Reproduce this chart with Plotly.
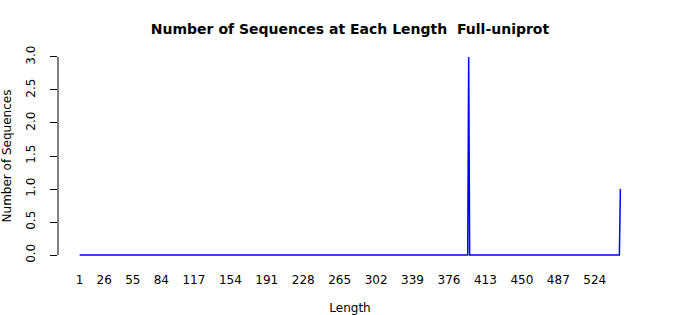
import plotly.graph_objects as go

# Sequence length vs count (line changes only; all other lengths have count 0)
lengths = [1, 395, 396, 397, 549, 550]
counts = [0, 0, 3, 0, 0, 1]

x_tick_vals = [1, 26, 55, 84, 117, 154, 191, 228, 265, 302, 339, 376, 413, 450, 487, 524]
x_tick_text = [str(v) for v in x_tick_vals]
y_tick_vals = [0, 0.5, 1, 1.5, 2, 2.5, 3]
y_tick_text = ["0.0", "0.5", "1.0", "1.5", "2.0", "2.5", "3.0"]

font_family = "DejaVu Sans"

fig = go.Figure()
fig.add_trace(go.Scatter(
    x=lengths, y=counts, mode="lines",
    line=dict(color="#0000FF", width=1.5),
    hoverinfo="x+y", showlegend=False,
))

xmin, xmax = min(lengths), max(lengths)
xpad = (xmax - xmin) * 0.04
ymin, ymax = 0, 3
ypad = (ymax - ymin) * 0.04

fig.update_layout(
    width=700, height=315,
    margin=dict(l=58, r=58, t=49, b=52, autoexpand=False),
    paper_bgcolor="white", plot_bgcolor="white",
    font=dict(family=font_family, size=12, color="black"),
    title=dict(
        text="<b>Number of Sequences at Each Length  Full-uniprot</b>",
        x=0.5, xanchor="center", y=1 - 29 / 315, yanchor="middle", yref="container",
        font=dict(family=font_family, size=14, color="black"),
    ),
    xaxis=dict(
        range=[xmin - xpad, xmax + xpad], automargin=False,
        tickmode="array", tickvals=x_tick_vals, ticktext=x_tick_text,
        tickfont=dict(size=12),
        showgrid=False, zeroline=False, showline=False,
        ticks="", ticklabelstandoff=8,
        title=dict(text="Length", standoff=18, font=dict(size=12)),
    ),
    yaxis=dict(
        range=[ymin - ypad, ymax + ypad], automargin=False,
        tickmode="array", tickvals=y_tick_vals, ticktext=y_tick_text,
        tickfont=dict(size=12),
        tickangle=-90,
        showgrid=False, zeroline=False, showline=False,
        ticks="outside", ticklen=7, tickcolor="black", tickwidth=1,
        ticklabelstandoff=10,
        title=dict(text="Number of Sequences", standoff=14, font=dict(size=12)),
    ),
    shapes=[dict(
        type="line", xref="paper", yref="y",
        x0=0, x1=0, y0=ymin, y1=ymax,
        line=dict(color="black", width=1),
    )],
)

fig.write_html("out.html")
